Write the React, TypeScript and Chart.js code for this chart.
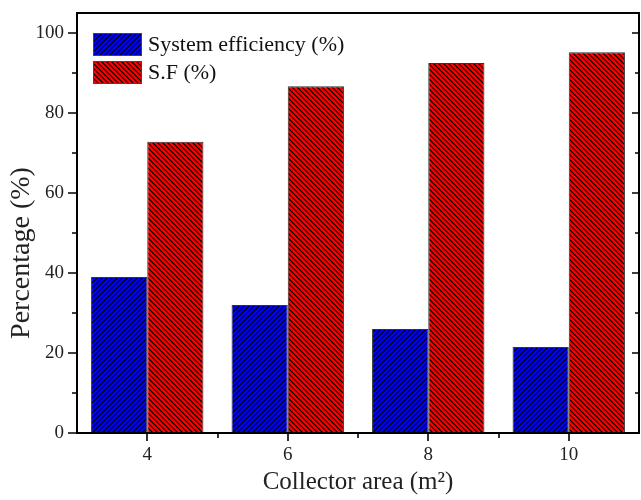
import React, { useEffect, useRef } from 'react';
import { Chart, registerables } from 'chart.js';

Chart.register(...registerables);

// Collector area (m²) on the x axis
const collectorAreas = [4, 6, 8, 10];
// System efficiency (%) per collector area
const systemEfficiency = [39, 32, 26, 21.5];
// Solar fraction S.F (%) per collector area
const solarFraction = [72.8, 86.7, 92.5, 95.2];

const seriesNames = ['System efficiency (%)', 'S.F (%)'];
const yMajorTicks = [0, 20, 40, 60, 80, 100];
const yMinorTicks = [10, 30, 50, 70, 90];
const xMinorTicks = [5, 7, 9];

const SERIF = '"Liberation Serif", "Times New Roman", serif';

function makeHatch(ctx: CanvasRenderingContext2D, color: string, rising: boolean): CanvasPattern {
  const s = 5;
  const c = document.createElement('canvas');
  c.width = s;
  c.height = s;
  const g = c.getContext('2d') as CanvasRenderingContext2D;
  g.fillStyle = color;
  g.fillRect(0, 0, s, s);
  g.strokeStyle = '#000';
  g.lineWidth = 1.2;
  g.beginPath();
  if (rising) {
    g.moveTo(-1, s + 1); g.lineTo(s + 1, -1);
    g.moveTo(-1, 1); g.lineTo(1, -1);
    g.moveTo(s - 1, s + 1); g.lineTo(s + 1, s - 1);
  } else {
    g.moveTo(-1, -1); g.lineTo(s + 1, s + 1);
    g.moveTo(s - 1, -1); g.lineTo(s + 1, 1);
    g.moveTo(-1, s - 1); g.lineTo(1, s + 1);
  }
  g.stroke();
  return ctx.createPattern(c, 'repeat') as CanvasPattern;
}

export default function App() {
  const canvasRef = useRef<HTMLCanvasElement | null>(null);

  useEffect(() => {
    const canvas = canvasRef.current;
    if (!canvas) return;
    const ctx = canvas.getContext('2d') as CanvasRenderingContext2D;
    const blueHatch = makeHatch(ctx, '#0000ff', true);
    const redHatch = makeHatch(ctx, '#ff0000', false);
    const fills = [blueHatch, redHatch];

    // Frame, tick marks, y title and in-plot legend
    const framePlugin = {
      id: 'frameDecor',
      afterDraw(chart: any) {
        const c = chart.ctx as CanvasRenderingContext2D;
        const { left, right, top, bottom } = chart.chartArea;
        const xs = chart.scales.x;
        const ys = chart.scales.y;
        c.save();
        c.strokeStyle = '#000';
        c.lineWidth = 2;
        c.strokeRect(left, top, right - left, bottom - top);

        c.lineWidth = 1.6;
        c.beginPath();
        for (const v of yMajorTicks) {
          const y = Math.round(ys.getPixelForValue(v));
          c.moveTo(left - 9, y); c.lineTo(left, y);
          c.moveTo(right - 7, y); c.lineTo(right, y);
        }
        for (const v of yMinorTicks) {
          const y = Math.round(ys.getPixelForValue(v));
          c.moveTo(left - 5, y); c.lineTo(left, y);
          c.moveTo(right - 4, y); c.lineTo(right, y);
        }
        for (const v of collectorAreas) {
          const x = Math.round(xs.getPixelForValue(v));
          c.moveTo(x, bottom); c.lineTo(x, bottom + 8);
        }
        for (const v of xMinorTicks) {
          const x = Math.round(xs.getPixelForValue(v));
          c.moveTo(x, bottom); c.lineTo(x, bottom + 5);
        }
        c.stroke();

        // y axis title
        c.fillStyle = '#222';
        c.font = `28px ${SERIF}`;
        c.textAlign = 'center';
        c.textBaseline = 'middle';
        c.translate(22, ys.getPixelForValue(45));
        c.rotate(-Math.PI / 2);
        c.fillText('Percentage (%)', 0, 0);
        c.restore();

        // legend
        c.save();
        const bx = left + 16;
        const bw = 49;
        const bh = 23;
        const rows = [top + 20, top + 48];
        c.font = `22px ${SERIF}`;
        c.textAlign = 'left';
        c.textBaseline = 'middle';
        rows.forEach((by, i) => {
          c.fillStyle = fills[i];
          c.fillRect(bx, by, bw, bh);
          c.strokeStyle = '#444';
          c.lineWidth = 1;
          c.strokeRect(bx + 0.5, by + 0.5, bw - 1, bh - 1);
          c.fillStyle = '#111';
          c.fillText(seriesNames[i], bx + bw + 6, by + bh / 2 + 1);
        });
        c.restore();
      },
    };

    const chart = new Chart(ctx, {
      type: 'bar',
      data: {
        datasets: [
          {
            label: seriesNames[0],
            data: collectorAreas.map((x, i) => ({ x, y: systemEfficiency[i] })),
            backgroundColor: blueHatch,
            borderColor: '#333',
            borderWidth: 1,
            categoryPercentage: 0.8,
            barPercentage: 1,
          },
          {
            label: seriesNames[1],
            data: collectorAreas.map((x, i) => ({ x, y: solarFraction[i] })),
            backgroundColor: redHatch,
            borderColor: '#333',
            borderWidth: 1,
            categoryPercentage: 0.8,
            barPercentage: 1,
          },
        ],
      },
      options: {
        animation: false,
        responsive: false,
        devicePixelRatio: 1,
        layout: { padding: { top: 13, right: 2, left: 0, bottom: 0 } },
        plugins: {
          legend: { display: false },
          tooltip: { enabled: false },
        },
        scales: {
          x: {
            type: 'linear',
            min: 3,
            max: 11,
            offset: false,
            grid: { display: false, drawTicks: false },
            border: { display: false },
            afterBuildTicks: (s: any) => {
              s.ticks = collectorAreas.map((v) => ({ value: v }));
            },
            afterFit: (s: any) => {
              s.height = 67;
              s.paddingLeft = 0;
              s.paddingRight = 0;
            },
            ticks: {
              color: '#222',
              font: { family: SERIF, size: 19 },
              padding: 11,
              maxRotation: 0,
              callback: (v: any) => String(v),
            },
            title: {
              display: true,
              text: 'Collector area (m²)',
              color: '#222',
              font: { family: SERIF, size: 25 },
              padding: { top: 0, bottom: 3 },
            },
          },
          y: {
            min: 0,
            max: 105,
            grid: { display: false, drawTicks: false },
            border: { display: false },
            afterBuildTicks: (s: any) => {
              s.ticks = yMajorTicks.map((v) => ({ value: v }));
            },
            afterFit: (s: any) => {
              s.width = 77;
              s.paddingTop = 0;
              s.paddingBottom = 0;
            },
            ticks: {
              color: '#222',
              font: { family: SERIF, size: 19 },
              padding: 13,
            },
          },
        },
      },
      plugins: [framePlugin],
    });

    return () => chart.destroy();
  }, []);

  return (
    <div style={{ position: 'fixed', left: 0, top: 0, width: 641, height: 500, background: '#fff' }}>
      <canvas ref={canvasRef} width={641} height={500} style={{ display: 'block', width: 641, height: 500 }} />
    </div>
  );
}
